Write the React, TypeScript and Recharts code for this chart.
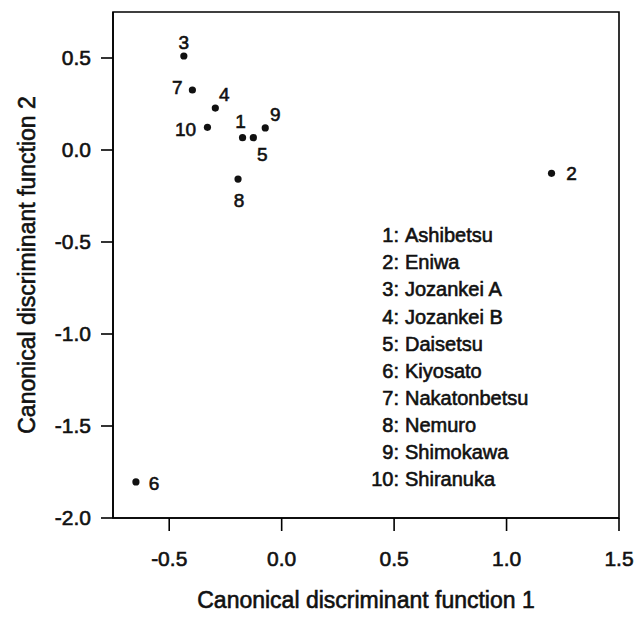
import React from 'react';
import { ScatterChart, Scatter, XAxis, YAxis, Customized, ReferenceArea } from 'recharts';

// ---- data ----
const siteIds = [1, 2, 3, 4, 5, 6, 7, 8, 9, 10];
const siteNames = [
  'Ashibetsu',
  'Eniwa',
  'Jozankei A',
  'Jozankei B',
  'Daisetsu',
  'Kiyosato',
  'Nakatonbetsu',
  'Nemuro',
  'Shimokawa',
  'Shiranuka',
];
const cdf1 = [-0.174, 1.2, -0.435, -0.295, -0.126, -0.648, -0.397, -0.194, -0.073, -0.33];
const cdf2 = [0.067, -0.127, 0.511, 0.228, 0.067, -1.804, 0.326, -0.158, 0.12, 0.123];
const xTicks = [-0.5, 0, 0.5, 1.0, 1.5];
const yTicks = [-2.0, -1.5, -1.0, -0.5, 0.0, 0.5];
const xDomain: [number, number] = [-0.75, 1.5];
const yDomain: [number, number] = [-2, 0.75];
const xTitle = 'Canonical discriminant function 1';
const yTitle = 'Canonical discriminant function 2';

// ---- layout (label placement relative to each point) ----
const labelOffset: Record<number, [number, number]> = {
  1: [-2, -17],
  2: [20, 0],
  3: [0, -14],
  4: [9, -14],
  5: [9, 16],
  6: [18, 1],
  7: [-15, -3],
  8: [1, 21],
  9: [10, -14],
  10: [-22, 2],
};

const FONT = '"Liberation Sans", Arial, Helvetica, sans-serif';
const INK = '#111';
const SW = 0.6;

const points = siteIds.map((id, i) => ({ id, x: cdf1[i], y: cdf2[i] }));

const fmt = (v: number) => v.toFixed(1);

const PointShape = (props: any) => {
  const { cx, cy, payload } = props;
  const [dx, dy] = labelOffset[payload.id] || [0, -14];
  return (
    <g>
      <circle cx={cx} cy={cy} r={3.6} fill={INK} />
      <text
        x={cx + dx}
        y={cy + dy}
        dy="0.36em"
        textAnchor="middle"
        fontFamily={FONT}
        fontSize={19}
        fill={INK}
        stroke={INK}
        strokeWidth={SW}
      >
        {payload.id}
      </text>
    </g>
  );
};

const Decorations = () => (
  <g fontFamily={FONT} fill={INK}>
    {siteNames.map((name, i) => (
      <g key={name}>
        <text
          x={399}
          y={235 + i * 27.1}
          dy="0.36em"
          textAnchor="end"
          fontSize={20}
          stroke={INK}
          strokeWidth={SW}
        >
          {`${siteIds[i]}:`}
        </text>
        <text
          x={405}
          y={235 + i * 27.1}
          dy="0.36em"
          textAnchor="start"
          fontSize={20}
          stroke={INK}
          strokeWidth={SW}
        >
          {name}
        </text>
      </g>
    ))}
    <text
      x={366}
      y={600}
      dy="0.36em"
      textAnchor="middle"
      fontSize={23}
      stroke={INK}
      strokeWidth={SW}
    >
      {xTitle}
    </text>
    <text
      x={27}
      y={265}
      dy="0.36em"
      textAnchor="middle"
      fontSize={23}
      stroke={INK}
      strokeWidth={SW}
      transform="rotate(-90 27 265)"
    >
      {yTitle}
    </text>
  </g>
);

const tickStyle = {
  fontFamily: FONT,
  fontSize: 21,
  fill: INK,
  stroke: INK,
  strokeWidth: SW,
};

export default function App() {
  return (
    <div
      style={{
        position: 'fixed',
        left: 0,
        top: 0,
        width: 636,
        height: 617,
        overflow: 'hidden',
        background: '#fff',
      }}
    >
      <ScatterChart
        width={636}
        height={617}
        margin={{ top: 12, right: 17, left: 8, bottom: 0 }}
      >
        <XAxis
          type="number"
          dataKey="x"
          domain={xDomain}
          ticks={xTicks}
          tickFormatter={fmt}
          allowDataOverflow
          height={99}
          tickSize={13}
          tickMargin={20}
          stroke="#000"
          strokeWidth={1.6}
          tick={tickStyle}
          interval={0}
        />
        <YAxis
          type="number"
          dataKey="y"
          domain={yDomain}
          ticks={yTicks}
          tickFormatter={fmt}
          allowDataOverflow
          width={105}
          tickSize={12}
          tickMargin={10}
          stroke="#000"
          strokeWidth={1.6}
          tick={tickStyle}
          interval={0}
        />
        <ReferenceArea
          x1={xDomain[0]}
          x2={xDomain[1]}
          y1={yDomain[0]}
          y2={yDomain[1]}
          fill="none"
          fillOpacity={0}
          stroke="#000"
          strokeWidth={1.6}
          ifOverflow="visible"
        />
        <Scatter
          data={points}
          shape={PointShape}
          isAnimationActive={false}
        />
        <Customized component={Decorations} />
      </ScatterChart>
    </div>
  );
}
